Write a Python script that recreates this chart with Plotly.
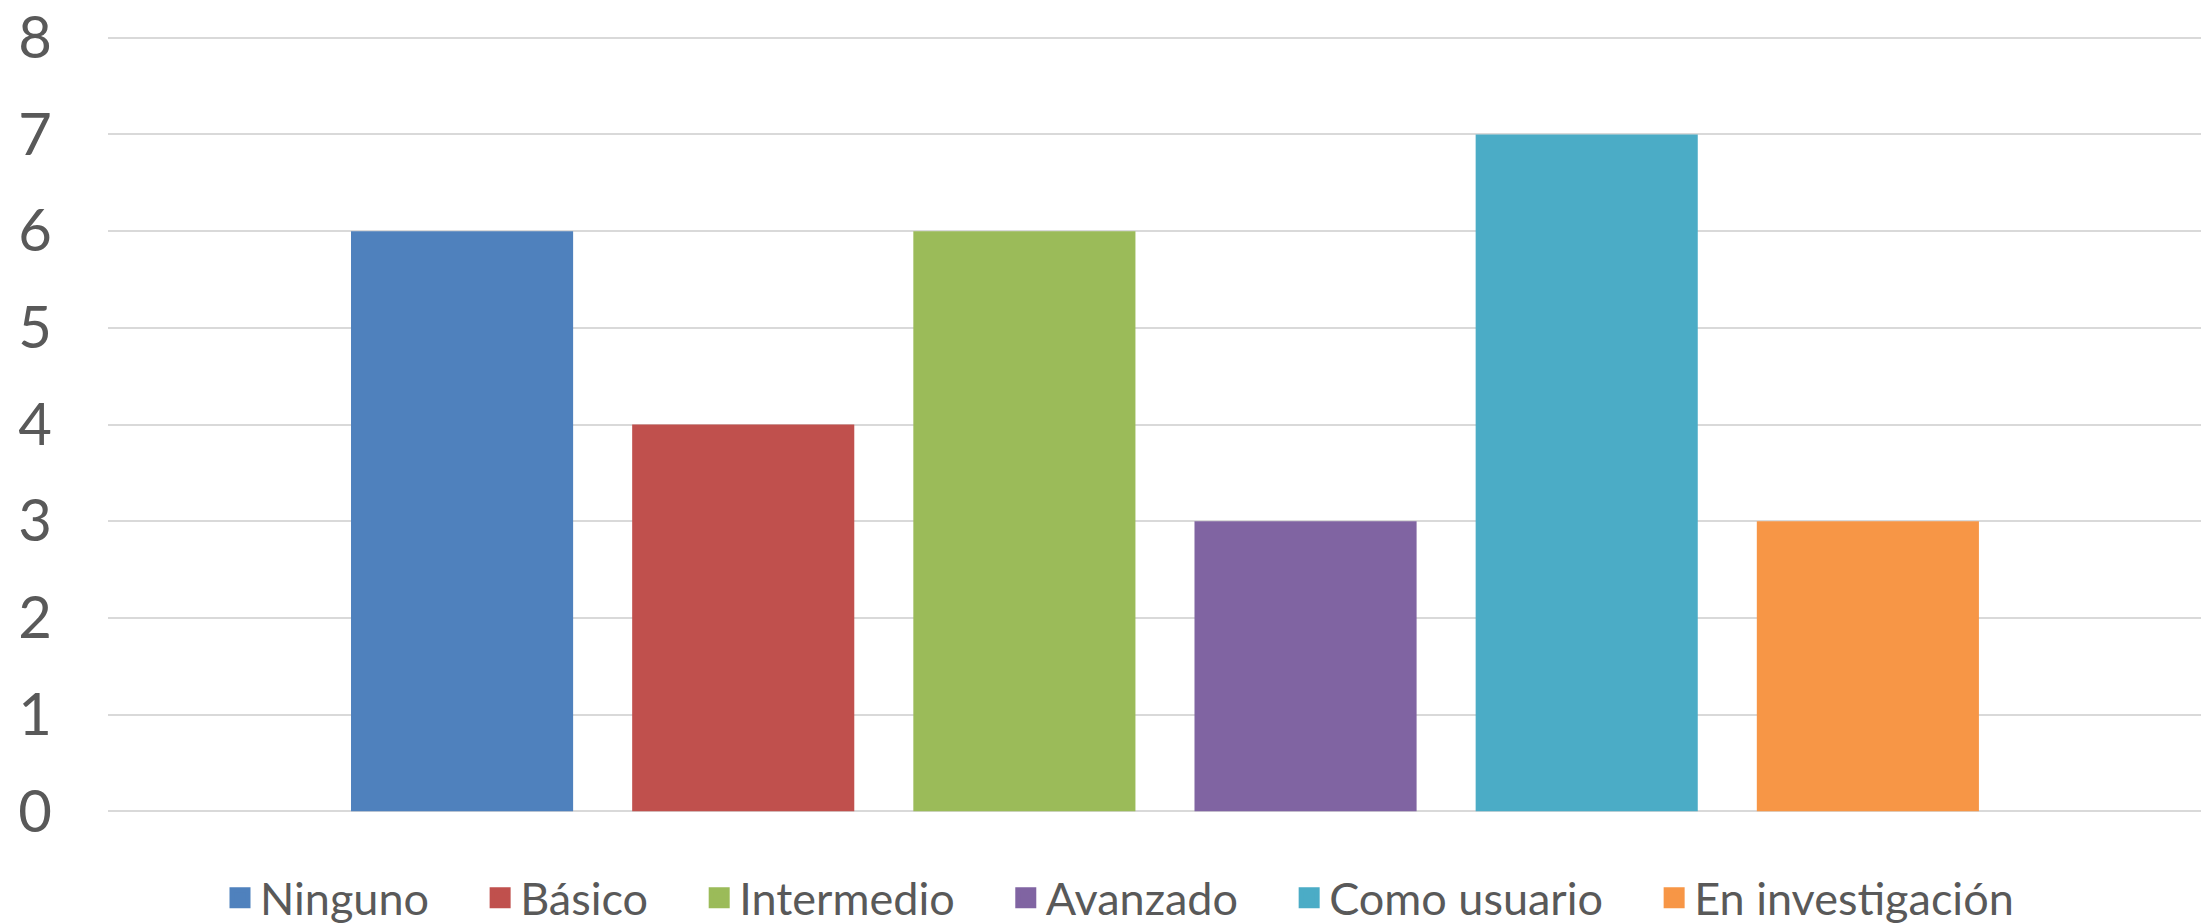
import plotly.graph_objects as go

categories = ["Ninguno", "Básico", "Intermedio", "Avanzado", "Como usuario", "En investigación"]
values = [6, 4, 6, 3, 7, 3]
colors = ["#4F81BD", "#C0504D", "#9BBB59", "#8064A2", "#4BACC6", "#F79646"]
tick_values = [0, 1, 2, 3, 4, 5, 6, 7, 8]

FONT = "Lato"
TEXT = "#595959"
PAD = "\u00a0" * 4

fig = go.Figure()
for name, v, c in zip(categories, values, colors):
    fig.add_trace(go.Bar(x=[""], y=[v], name=name, marker=dict(color=c, line=dict(width=0)),
                         legendgroup=name, showlegend=False))
    fig.add_trace(go.Scatter(x=[None], y=[None], mode="markers", name=name + PAD, legendgroup=name,
                             marker=dict(symbol="square", size=30, color=c,
                                         line=dict(width=5, color=c)),
                             showlegend=True))

fig.update_layout(
    width=2201, height=924,
    paper_bgcolor="white", plot_bgcolor="white",
    margin=dict(l=108, r=0, t=32, b=107),
    barmode="group", bargap=0.194, bargroupgap=0.21,
    font=dict(family=FONT, color=TEXT),
    showlegend=True,
    legend=dict(orientation="h", x=220 / 2201, xanchor="left", xref="container",
                y=1 - 898 / 924, yanchor="middle", yref="container",
                font=dict(family=FONT, size=45, color=TEXT), itemsizing="trace",
                traceorder="normal", bgcolor="rgba(0,0,0,0)"),
    xaxis=dict(range=[-0.505, 0.495], showticklabels=False, showgrid=False, zeroline=False,
               showline=False, ticks=""),
    yaxis=dict(range=[-0.06, 8.06], tickvals=tick_values, showgrid=True, gridcolor="#D9D9D9",
               gridwidth=2, zeroline=False, showline=False, ticks="", ticklabelstandoff=55,
               tickfont=dict(family=FONT, size=58, color=TEXT)),
)
fig.write_html("out.html", config={"displayModeBar": False},
               post_script="document.body.style.margin='0';")
